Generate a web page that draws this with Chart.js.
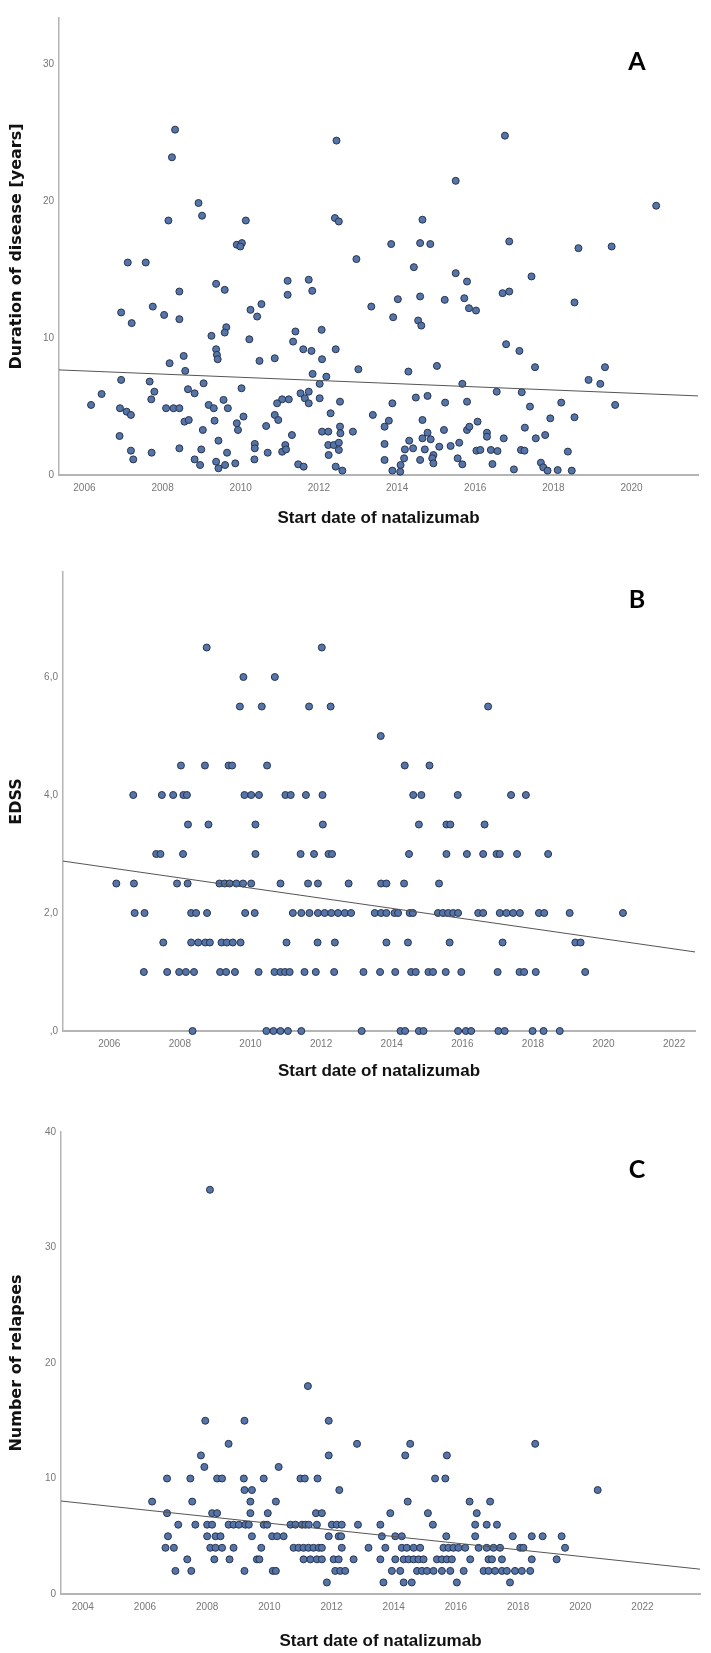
<!DOCTYPE html>
<html>
<head>
<meta charset="utf-8">
<script src="https://cdn.jsdelivr.net/npm/chart.js@4.4.1/dist/chart.umd.min.js"></script>
<style>
    body { margin: 0; background: #fff; width: 711px; height: 1653px; position: relative; overflow: hidden; }
    .panel { position: absolute; left: 0; width: 711px; }
    .letter { position: absolute; transform: translate(-50%, -50%); font-family: Lato, "Open Sans", sans-serif; font-weight: bold; font-size: 25px; color: #000; }
</style>
</head>
<body>
<div class="panel" style="top:0;height:540px"><canvas id="chartA"></canvas></div>
<div class="panel" style="top:540px;height:550px"><canvas id="chartB"></canvas></div>
<div class="panel" style="top:1090px;height:563px"><canvas id="chartC"></canvas></div>
<div class="letter" style="left:637px;top:60px">A</div>
<div class="letter" style="left:637px;top:598px">B</div>
<div class="letter" style="left:637px;top:1168px">C</div>
<script>
// axe x commun : date de début du natalizumab (en années décimales)
const xTitle = "Start date of natalizumab";

// --- A : durée de la maladie ---
const aStart = [
    2008.32, 2008.24, 2012.45, 2008.92, 2009.01, 2008.15, 2010.13, 2012.41, 2012.51, 2009.9,
    2010.03, 2009.99, 2012.96, 2007.11, 2007.57, 2009.37, 2009.59, 2008.43, 2011.2, 2011.74,
    2011.2, 2011.83, 2013.34, 2006.94, 2007.21, 2007.75, 2008.04, 2008.43, 2010.25, 2010.42,
    2010.53, 2009.63, 2009.59, 2009.25, 2010.22, 2011.4, 2011.34, 2012.07, 2011.6, 2011.81,
    2012.43, 2012.08, 2009.37, 2009.39, 2009.41, 2010.48, 2010.87, 2008.54, 2008.18, 2008.58,
    2013.01, 2011.84, 2012.19, 2006.94, 2007.67, 2006.44, 2006.17, 2007.79, 2007.71, 2008.65,
    2008.82, 2009.05, 2010.02, 2012.02, 2011.74, 2011.53, 2011.64, 2011.74, 2011.23, 2011.06,
    2010.93, 2012.02, 2012.54, 2006.91, 2007.08, 2007.19, 2008.09, 2008.28, 2008.43, 2009.18,
    2009.31, 2009.56, 2009.67, 2008.56, 2008.67, 2009.33, 2009.9, 2010.07, 2009.93, 2010.87,
    2010.96, 2010.65, 2012.3, 2013.38, 2006.9, 2009.03, 2009.43, 2011.31, 2012.08, 2012.24,
    2012.54, 2012.55, 2012.87, 2007.19, 2007.25, 2007.72, 2008.43, 2008.99, 2008.82, 2008.96,
    2009.37, 2009.43, 2009.6, 2009.65, 2009.86, 2010.36, 2010.36, 2010.35, 2010.69, 2011.06,
    2011.14, 2011.16, 2011.47, 2011.61, 2012.24, 2012.38, 2012.51, 2012.25, 2012.51, 2012.43,
    2012.6,
    2016.76, 2015.5, 2020.63, 2014.65, 2013.85, 2014.59, 2014.85, 2016.87, 2018.64, 2019.49,
    2014.43, 2015.5, 2015.79, 2017.44, 2016.7, 2016.87, 2014.02, 2014.59, 2015.22, 2015.72,
    2015.84, 2016.02, 2018.54, 2013.9, 2014.54, 2014.62, 2016.79, 2017.13, 2014.29, 2015.02,
    2017.53, 2019.32, 2018.9, 2019.2, 2015.67, 2016.55, 2017.19, 2013.88, 2014.48, 2014.78,
    2015.23, 2015.79, 2017.4, 2018.2, 2019.58, 2013.79, 2013.68, 2014.65, 2016.06, 2017.27,
    2017.92, 2018.54, 2015.2, 2015.79, 2015.85, 2016.3, 2016.3, 2016.73, 2017.55, 2017.79,
    2014.78, 2014.65, 2014.31, 2013.68, 2014.41, 2014.71, 2014.93, 2015.08, 2015.37, 2015.59,
    2016.03, 2016.13, 2016.4, 2016.57, 2017.17, 2017.26, 2018.37, 2013.68, 2014.18, 2014.09,
    2013.88, 2014.08, 2014.59, 2014.9, 2014.93, 2015.55, 2015.67, 2016.44, 2016.99, 2017.68,
    2017.74, 2017.85, 2018.11, 2018.47, 2014.2, 2014.86
];
const aDuration = [
    25.24, 23.22, 24.44, 19.88, 18.95, 18.6, 18.6, 18.78, 18.53, 16.83,
    16.95, 16.7, 15.78, 15.53, 15.53, 13.97, 13.53, 13.41, 14.19, 14.27,
    13.17, 13.46, 12.31, 11.88, 11.1, 12.31, 11.7, 11.39, 12.07, 11.58,
    12.49, 10.8, 10.41, 10.17, 9.92, 10.49, 9.75, 10.61, 9.19, 9.07,
    9.19, 8.46, 9.19, 8.78, 8.46, 8.34, 8.53, 8.7, 8.17, 7.61,
    7.73, 7.39, 7.19, 6.95, 6.83, 5.92, 5.12, 6.09, 5.53, 6.27,
    5.97, 6.7, 6.34, 6.66, 6.09, 5.97, 5.61, 5.24, 5.53, 5.53,
    5.24, 5.61, 5.36, 4.88, 4.63, 4.39, 4.88, 4.88, 4.88, 5.12,
    4.88, 5.49, 4.88, 3.9, 4.02, 3.97, 3.78, 4.27, 3.29, 4.39,
    4.02, 3.58, 4.51, 4.39, 2.85, 3.29, 2.51, 2.92, 3.17, 3.17,
    3.54, 3.05, 3.17, 1.78, 1.14, 1.63, 1.95, 1.87, 1.14, 0.73,
    0.97, 0.49, 0.73, 1.63, 0.85, 2.27, 1.95, 1.14, 1.63, 1.7,
    2.19, 1.87, 0.78, 0.61, 2.19, 2.19, 2.36, 1.46, 1.83, 0.61,
    0.32,
    24.8, 21.5, 19.68, 18.66, 16.88, 16.95, 16.88, 17.07, 16.58, 16.7,
    15.19, 14.75, 14.14, 14.51, 13.29, 13.41, 12.85, 13.05, 12.8, 12.92,
    12.19, 12.02, 12.61, 11.53, 11.29, 10.92, 9.56, 9.07, 7.56, 7.97,
    7.88, 7.88, 6.95, 6.66, 6.66, 6.09, 6.05, 5.24, 5.66, 5.78,
    5.29, 5.36, 5.0, 5.29, 5.12, 3.97, 3.53, 4.02, 3.9, 3.46,
    4.14, 4.22, 3.29, 3.29, 3.53, 3.09, 2.8, 2.68, 2.68, 2.92,
    3.09, 2.68, 2.51, 2.27, 1.95, 1.87, 1.46, 2.07, 2.12, 2.36,
    1.78, 1.83, 1.83, 1.75, 1.83, 1.78, 1.71, 1.1, 1.22, 0.73,
    0.32, 0.24, 1.1, 1.22, 0.85, 1.22, 0.78, 0.8, 0.41, 0.9,
    0.56, 0.32, 0.36, 0.32, 1.87, 2.61
];
const aTrendStart = [2005.35, 2021.7];
const aTrendDuration = [7.68, 5.78];

// --- B : EDSS (une ligne par niveau) ---
const edssLevels = [6.5, 6.0, 5.5, 5.0, 4.5, 4.0, 3.5, 3.0, 2.5, 2.0, 1.5, 1.0, 0];
const edssStarts = [
    [2008.76, 2012.02],
    [2009.8, 2010.69],
    [2009.7, 2010.32, 2011.66, 2012.27, 2016.73],
    [2013.69],
    [2008.03, 2008.71, 2009.38, 2009.48, 2010.47, 2014.37, 2015.07],
    [2006.68, 2007.49, 2007.81, 2008.1, 2008.2, 2009.83, 2010.02, 2010.24, 2010.99, 2011.14, 2011.57, 2012.04, 2014.61, 2014.84, 2015.87, 2017.38, 2017.8],
    [2008.23, 2008.81, 2010.14, 2012.05, 2014.77, 2015.55, 2015.66, 2016.63],
    [2007.33, 2007.45, 2008.09, 2010.14, 2011.42, 2011.8, 2012.21, 2012.31, 2014.49, 2015.55, 2016.13, 2016.59, 2016.97, 2017.06, 2017.55, 2018.43],
    [2006.2, 2006.7, 2007.92, 2008.22, 2009.12, 2009.27, 2009.41, 2009.6, 2009.79, 2010.02, 2010.85, 2011.63, 2011.91, 2012.78, 2013.7, 2013.85, 2014.35, 2015.34],
    [2006.72, 2007.0, 2008.32, 2008.46, 2008.77, 2009.85, 2010.12, 2011.2, 2011.44, 2011.67, 2011.91, 2012.1, 2012.29, 2012.48, 2012.67, 2012.85, 2013.52, 2013.7, 2013.85, 2014.08, 2014.18, 2014.51, 2014.6, 2015.31, 2015.45, 2015.6, 2015.74, 2015.88, 2016.45, 2016.59, 2017.06, 2017.25, 2017.44, 2017.63, 2018.17, 2018.32, 2019.04, 2020.55],
    [2007.53, 2008.32, 2008.52, 2008.72, 2008.85, 2009.18, 2009.33, 2009.5, 2009.72, 2011.02, 2011.9, 2012.39, 2013.85, 2014.46, 2015.64, 2017.14, 2019.2, 2019.35],
    [2006.98, 2007.64, 2007.98, 2008.17, 2008.4, 2009.14, 2009.31, 2009.56, 2010.23, 2010.68, 2010.85, 2010.98, 2011.11, 2011.53, 2011.85, 2012.37, 2013.2, 2013.67, 2014.1, 2014.55, 2014.68, 2015.04, 2015.17, 2015.53, 2015.97, 2017.0, 2017.62, 2017.75, 2018.08, 2019.48],
    [2008.36, 2010.45, 2010.65, 2010.85, 2011.06, 2011.44, 2013.15, 2014.25, 2014.38, 2014.77, 2014.9, 2015.88, 2016.1, 2016.25, 2017.02, 2017.2, 2017.99, 2018.3, 2018.76]
];
const bTrendStart = [2004.69, 2022.59];
const bTrendEdss = [2.88, 1.34];

// --- C : nombre de poussées (une ligne par valeur) ---
const relapseLevels = [35, 18, 15, 13, 12, 11, 10, 9, 8, 7, 6, 5, 4, 3, 2, 1];
const relapseStarts = [
    [2008.09],
    [2011.24],
    [2007.94, 2009.2, 2011.91],
    [2008.69, 2012.82, 2014.53, 2018.55],
    [2007.8, 2011.91, 2014.37, 2015.71],
    [2007.91, 2010.3],
    [2006.71, 2007.46, 2008.32, 2008.48, 2009.18, 2009.82, 2011.0, 2011.14, 2011.55, 2015.33, 2015.66],
    [2009.2, 2009.44, 2012.25, 2020.56],
    [2006.23, 2007.52, 2009.39, 2010.21, 2014.45, 2016.44, 2017.1],
    [2006.71, 2008.16, 2008.32, 2009.39, 2009.95, 2011.5, 2011.69, 2013.89, 2015.1, 2016.67],
    [2007.07, 2007.62, 2008.0, 2008.16, 2008.69, 2008.85, 2009.02, 2009.23, 2009.34, 2009.82, 2009.93, 2010.68, 2010.84, 2011.05, 2011.16, 2011.27, 2011.53, 2012.01, 2012.17, 2012.33, 2012.85, 2013.57, 2015.26, 2016.62, 2016.99, 2017.32],
    [2006.74, 2008.0, 2008.27, 2008.43, 2009.44, 2010.09, 2010.25, 2010.46, 2011.91, 2012.23, 2012.31, 2013.62, 2014.05, 2014.26, 2015.69, 2016.62, 2017.83, 2018.44, 2018.79, 2019.4],
    [2006.66, 2006.93, 2008.1, 2008.27, 2008.48, 2008.85, 2009.74, 2010.78, 2010.94, 2011.1, 2011.26, 2011.42, 2011.59, 2011.69, 2012.33, 2013.19, 2013.73, 2014.26, 2014.42, 2014.64, 2014.85, 2015.6, 2015.76, 2015.92, 2016.08, 2016.3, 2016.73, 2016.99, 2017.21, 2017.42, 2018.07, 2018.17, 2019.51],
    [2007.36, 2008.23, 2008.72, 2009.6, 2009.68, 2011.1, 2011.32, 2011.53, 2011.69, 2012.07, 2012.23, 2012.71, 2013.57, 2014.05, 2014.32, 2014.48, 2014.64, 2014.8, 2014.96, 2015.39, 2015.55, 2015.71, 2015.87, 2016.46, 2017.05, 2017.16, 2017.48, 2018.44, 2019.24],
    [2006.98, 2007.49, 2009.2, 2010.11, 2010.21, 2012.12, 2012.28, 2012.44, 2013.94, 2014.21, 2014.75, 2014.91, 2015.07, 2015.28, 2015.55, 2015.82, 2016.25, 2016.89, 2017.05, 2017.26, 2017.48, 2017.64, 2017.9, 2018.12, 2018.39],
    [2011.85, 2013.67, 2014.32, 2014.58, 2016.03, 2017.74]
];
const cTrendStart = [2003.3, 2023.85];
const cTrendRelapses = [8.05, 2.15];

// construction des points {x, y}
function pairs(xs, ys) {
    return xs.map((x, i) => ({ x: x, y: ys[i] }));
}
function rows(levels, starts) {
    let pts = [];
    levels.forEach((lvl, i) => starts[i].forEach(s => pts.push({ x: s, y: lvl })));
    return pts;
}

const tickFont = { family: '"Liberation Sans Narrow", "Liberation Sans", Arial, sans-serif', size: 10 };
const xTitleFont = { family: '"Liberation Sans", Arial, sans-serif', size: 17, weight: 'bold' };
const yTitleFont = { family: '"DejaVu Sans", sans-serif', size: 16, weight: 'bold' };

function makeChart(id, points, trend, o) {
    return new Chart(document.getElementById(id), {
        type: "scatter",
        data: {
            datasets: [{
                type: "line",
                data: trend,
                borderColor: "#555",
                borderWidth: 1,
                pointRadius: 0,
                order: 0,
            }, {
                data: points,
                pointRadius: 3.5,
                backgroundColor: "#5574a8",
                borderColor: "#28344f",
                borderWidth: 1,
                clip: false,
                order: 1,
            }],
        },
        options: {
            responsive: true,
            maintainAspectRatio: false,
            animation: false,
            layout: { padding: { top: o.top, right: o.right, bottom: o.bottom, left: 0 } },
            plugins: {
                legend: { display: false },
                tooltip: { enabled: false },
            },
            scales: {
                x: {
                    type: "linear",
                    min: o.xMin,
                    max: o.xMax,
                    afterFit: s => { s.height = o.xHeight; },
                    grid: { display: false, drawTicks: false },
                    border: { color: "#b4b4b4", width: 2 },
                    ticks: {
                        stepSize: 2, includeBounds: false, padding: 7, maxRotation: 0, autoSkip: false,
                        color: "#777", font: tickFont, callback: v => String(v),
                    },
                    title: { display: true, text: xTitle, color: "#111", font: xTitleFont, padding: { top: 0, bottom: 0 } },
                },
                y: {
                    min: 0,
                    max: o.yMax,
                    afterFit: s => { s.width = o.yWidth; },
                    grid: { display: false, drawTicks: false },
                    border: { color: "#b4b4b4", width: 1.5 },
                    ticks: {
                        stepSize: o.yStep, includeBounds: false, padding: 5,
                        color: "#777", font: tickFont, callback: o.yLabel,
                    },
                    title: { display: true, text: o.yTitle, color: "#111", font: yTitleFont, padding: { top: 7, bottom: 0 } },
                },
            },
        },
    });
}

var chartA = makeChart("chartA", pairs(aStart, aDuration), pairs(aTrendStart, aTrendDuration), {
    top: 18, right: 13, bottom: 11.8, xHeight: 53.2, yWidth: 59,
    xMin: 2005.35, xMax: 2021.7, yMax: 33.4, yStep: 10,
    yLabel: v => String(v), yTitle: "Duration of disease [years]",
});
var chartB = makeChart("chartB", rows(edssLevels, edssStarts), pairs(bTrendStart, bTrendEdss), {
    top: 32, right: 16, bottom: 8.8, xHeight: 50.2, yWidth: 63,
    xMin: 2004.69, xMax: 2022.59, yMax: 7.78, yStep: 2,
    yLabel: v => v === 0 ? ",0" : v.toFixed(1).replace(".", ","), yTitle: "EDSS",
});
var chartC = makeChart("chartC", rows(relapseLevels, relapseStarts), pairs(cTrendStart, cTrendRelapses), {
    top: 42, right: 11, bottom: 1.8, xHeight: 57.2, yWidth: 61,
    xMin: 2003.3, xMax: 2023.85, yMax: 40, yStep: 10,
    yLabel: v => String(v), yTitle: "Number of relapses",
});
</script>
</body>
</html>
